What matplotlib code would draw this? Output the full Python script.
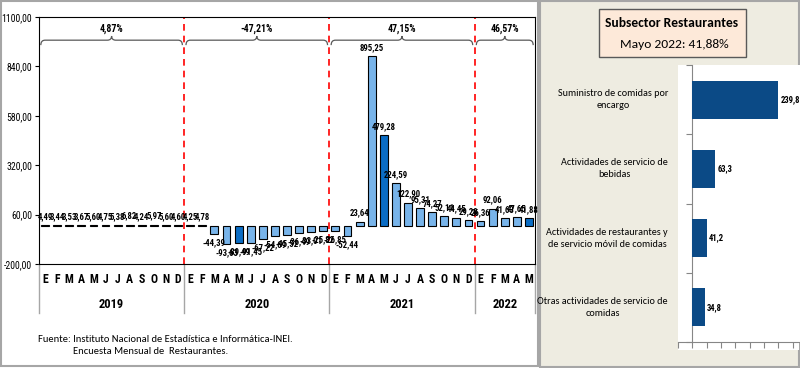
import numpy as np
import matplotlib
matplotlib.use('Agg')
import matplotlib.pyplot as plt
import matplotlib.transforms as mtransforms
from matplotlib.path import Path
from matplotlib.patches import PathPatch, Rectangle

# monthly variation (%) Jan 2019 - May 2022
values = [4.49, 3.44, 3.53, 3.67, 5.60, 4.75, 5.38, 6.82, 4.24, 5.97, 5.60, 4.60,
          4.25, 4.78, -44.39, -93.63, -89.49, -91.45, -67.22, -54.69, -45.52, -36.49, -33.01, -25.82,
          -26.85, -52.44, 23.64, 895.25, 479.28, 224.59, 122.90, 95.31, 74.27, 52.11, 44.45, 29.28,
          26.36, 92.06, 41.63, 47.65, 41.88]
month_letters = list("EFMAMJJASOND") * 3 + list("EFMAM")
years = ['2019', '2020', '2021', '2022']
year_months = [12, 12, 12, 5]
year_pct = ['4,87%', '-47,21%', '47,15%', '46,57%']
yticks = [-200, 60, 320, 580, 840, 1100]

# right panel: subsector breakdown, Mayo 2022
categories = ['Suministro de comidas por\nencargo',
              'Actividades de servicio de\nbebidas',
              'Actividades de restaurantes y\nde servicio móvil de comidas',
              'Otras actividades de servicio de\ncomidas']
cat_values = [239.8, 63.3, 41.2, 34.8]

narrow = ['Roboto Condensed', 'DejaVu Sans']
calib = ['Carlito', 'DejaVu Sans']

W, H = 800, 368
fig = plt.figure(figsize=(W / 100, H / 100), dpi=100)


def fx(x):
    return x / W


def fy(y):
    return 1 - y / H


# panel frames
fig.patches.append(Rectangle((fx(1), fy(366)), fx(537), 365 / H, transform=fig.transFigure,
                             facecolor='white', edgecolor='#A6A6A6', lw=1.5, zorder=-2))
fig.patches.append(Rectangle((fx(540), fy(367)), fx(259), 366 / H, transform=fig.transFigure,
                             facecolor='#EEECE1', edgecolor='#A6A6A6', lw=1.5, zorder=-2))
fig.patches.append(Rectangle((fx(678), fy(350)), fx(121), 285 / H, transform=fig.transFigure,
                             facecolor='white', edgecolor='none', zorder=-1))

# ---------------- left chart ----------------
ax = fig.add_axes([fx(39), fy(264), fx(535 - 39), (264 - 17) / H])
x = np.arange(len(values))
colors = ['#0A6CC4' if (i % 12) == 4 else '#78B4EA' for i in range(len(values))]
ax.bar(x, values, width=0.65, color=colors, edgecolor='black', linewidth=0.8, zorder=3)
ax.set_xlim(-0.5, len(values) - 0.5)
ax.set_ylim(-200, 1100)
ax.set_yticks(yticks, [f'{t},00' for t in yticks], fontsize=7, family=narrow)
ax.tick_params(axis='y', length=3, width=0.8, pad=2)
ax.set_xticks([])
for s in ax.spines.values():
    s.set_linewidth(0.8)

for i, v in enumerate(values):
    lab = f'{v:.2f}'.replace('.', ',')
    ax.annotate(lab, (i, v), xytext=(0, 3 if v >= 0 else -3), textcoords='offset points',
                ha='center', va='bottom' if v >= 0 else 'top', fontsize=6.3,
                fontweight='bold', family=narrow, zorder=4)

trans = mtransforms.blended_transform_factory(ax.transData, ax.transAxes)
bounds = np.cumsum([0] + year_months) - 0.5
for i, yr in enumerate(years):
    a, b = bounds[i], bounds[i + 1]
    ax.text((a + b) / 2, -0.162, yr, transform=trans, ha='center', va='center',
            fontsize=9, fontweight='bold', family=narrow)
    # brace
    a2, b2 = a + 0.15, b - 0.15
    m = (a2 + b2) / 2
    d = 0.35
    y0, y1, y2 = 952, 978, 1000
    verts = [(a2, y0), (a2, y1), (a2 + d, y1), (m - d, y1), (m, y1), (m, y2),
             (m, y1), (m + d, y1), (b2 - d, y1), (b2, y1), (b2, y0)]
    codes = [Path.MOVETO, Path.CURVE3, Path.CURVE3, Path.LINETO, Path.CURVE3, Path.CURVE3,
             Path.CURVE3, Path.CURVE3, Path.LINETO, Path.CURVE3, Path.CURVE3]
    ax.add_patch(PathPatch(Path(verts, codes), fill=False, edgecolor='#595959', lw=0.9, zorder=3))
    ax.text(m, 1040, year_pct[i], ha='center', va='center', fontsize=7,
            fontweight='bold', family=narrow)

for b in bounds:
    ax.plot([b, b], [0, -0.198], transform=trans, color='#A6A6A6', lw=1, clip_on=False)
for b in bounds[1:-1]:
    ax.axvline(b, color='#FF0000', ls=(0, (4, 3)), lw=1.2, zorder=2)

for i, m in enumerate(month_letters):
    ax.text(i, -0.061, m, transform=trans, ha='center', va='center', fontsize=8.5,
            fontweight='bold', family=narrow)

fig.text(fx(38), fy(339), 'Fuente: Instituto Nacional de Estadística e Informática-INEI.',
         fontsize=7.6, va='center', family=calib)
fig.text(fx(73), fy(352), 'Encuesta Mensual de  Restaurantes.', fontsize=7.6, va='center', family=calib)

# ---------------- right panel ----------------
fig.patches.append(Rectangle((fx(599), fy(57)), fx(147), 48 / H, transform=fig.transFigure,
                             facecolor='#FDE9D9', edgecolor='#595959', lw=1, zorder=-1))
fig.text(fx(672), fy(23), 'Subsector Restaurantes', ha='center', va='center', fontsize=9.7,
         fontweight='bold', family=calib)
fig.text(fx(674), fy(45), 'Mayo 2022: 41,88%', ha='center', va='center', fontsize=9.7, family=calib)

rax = fig.add_axes([fx(678), fy(342), fx(122), (342 - 65) / H])
yy = np.arange(len(cat_values))
rax.barh(yy, cat_values, height=0.55, color='#0B4A86', zorder=3)
rax.set_xlim(-40, 300)
rax.set_ylim(len(cat_values) - 0.5, -0.5)
rax.spines['top'].set_visible(False)
rax.spines['right'].set_visible(False)
rax.spines['left'].set_position(('data', 0))
for s in ('left', 'bottom'):
    rax.spines[s].set_color('#868686')
rax.set_xticks(np.arange(-40, 300, 40), [])
rax.set_yticks(np.arange(-0.5, len(cat_values), 1.0), [])
rax.tick_params(length=4, color='#868686')
for i, (c, v) in enumerate(zip(categories, cat_values)):
    rax.text(-68, i, c, ha='right', va='center', multialignment='center', fontsize=7.3,
             family=calib, clip_on=False, linespacing=1.45)
    rax.annotate(f'{v:.1f}'.replace('.', ','), (v, i), xytext=(1.5, 0), textcoords='offset points',
                 ha='left', va='center', fontsize=6.2, fontweight='bold', family=narrow)

fig.savefig('out.png', dpi=100)
